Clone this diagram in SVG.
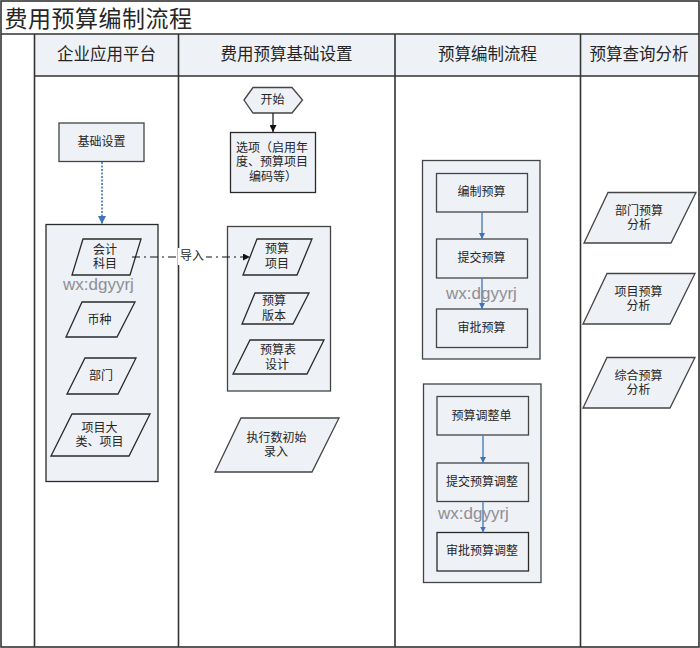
<svg xmlns="http://www.w3.org/2000/svg" width="700" height="648" viewBox="0 0 700 648">
<style>
text{font-family:"Noto Sans CJK SC","Liberation Sans",sans-serif;fill:#262626;text-anchor:middle}
.t{font-size:12px}
.h{font-size:16.5px}
.b{fill:#eef1f6;stroke:#2a2a2a;stroke-width:1.3}
.g{fill:#eef1f6;stroke:#444;stroke-width:1.3}
.lane{fill:none;stroke:#333;stroke-width:1.6}
.wm{font-family:"Liberation Sans",sans-serif;font-size:17px;fill:#8e8e94;text-anchor:start}
.bl{fill:none;stroke:#4a7ebb;stroke-width:1.4;marker-end:url(#ab)}
</style>
<defs>
<marker id="ab" viewBox="0 0 10 10" refX="10" refY="5" markerWidth="6" markerHeight="6" orient="auto" markerUnits="userSpaceOnUse"><path d="M0 0L10 5L0 10Z" fill="#3f74b8"/></marker>
<marker id="abl" viewBox="0 0 10 10" refX="10" refY="5" markerWidth="8" markerHeight="8" orient="auto" markerUnits="userSpaceOnUse"><path d="M0 0L10 5L0 10Z" fill="#3f74b8"/></marker>
<marker id="ak" viewBox="0 0 10 10" refX="10" refY="5" markerWidth="7" markerHeight="7" orient="auto" markerUnits="userSpaceOnUse"><path d="M0 0L10 5L0 10Z" fill="#111"/></marker>
</defs>
<rect width="700" height="648" fill="#fff"/>
<g id="frame">
<rect x="35" y="34" width="544" height="42" fill="#eef1f6"/>
<rect x="580" y="34" width="119" height="42" fill="#eef1f6"/>
<rect x="1" y="1" width="698" height="646" class="lane"/>
<path class="lane" d="M1 34H699M34.500 76H699M34.500 34V647M178.500 34V647M395 34V647M580.500 34V647"/>
<text x="98.500" y="26.500" style="font-size:23px;letter-spacing:.5px">费用预算编制流程</text>
<text class="h" x="106.500" y="60">企业应用平台</text>
<text class="h" x="286.500" y="60">费用预算基础设置</text>
<text class="h" x="487.500" y="60">预算编制流程</text>
<text class="h" x="639" y="60">预算查询分析</text>
</g>
<g id="group-basic"><rect class="b" x="46" y="224.500" width="112" height="257"/></g>
<g id="group-budget"><rect class="g" x="227.500" y="226.500" width="103" height="164.500"/></g>
<g id="group-prep"><rect class="g" x="422.500" y="160.500" width="117.500" height="198.500"/></g>
<g id="group-adjust"><rect class="g" x="423.500" y="384" width="117.500" height="198.500"/></g>
<g id="n-jichu"><rect class="g" x="59" y="123" width="85" height="38.500"/><text class="t" x="101.500" y="146">基础设置</text></g>
<g id="n-kaishi"><polygon class="g" points="244,100 253,87.500 292,87.500 302.500,100 292,113 253,113"/><text class="t" x="272.500" y="104">开始</text></g>
<g id="n-xuanxiang"><rect class="b" x="230.500" y="132.500" width="85" height="60"/><text class="t"><tspan x="272" y="152">选项（启用年</tspan><tspan x="272" y="166">度、预算项目</tspan><tspan x="273" y="181">编码等）</tspan></text></g>
<g id="n-kemu"><polygon class="b" points="83,239 141,239 130,275 72,275"/><text class="t"><tspan x="105" y="254">会计</tspan><tspan x="105" y="268">科目</tspan></text></g>
<g id="n-bizhong"><polygon class="b" points="82,302 135,302 117,337 66,337"/><text class="t" x="99.500" y="324">币种</text></g>
<g id="n-bumen"><polygon class="b" points="85,358 136,358 118,394 67,394"/><text class="t" x="101" y="380">部门</text></g>
<g id="n-xiangmu"><polygon class="b" points="72,414 150,414 129,456 51,456"/><text class="t"><tspan x="99.500" y="432">项目大</tspan><tspan x="99.500" y="446">类、项目</tspan></text></g>
<g id="n-ysxm"><polygon class="b" points="257,239 312,239 297,275 243,275"/><text class="t"><tspan x="277" y="253">预算</tspan><tspan x="277" y="268">项目</tspan></text></g>
<g id="n-ysbb"><polygon class="b" points="255,293 309,293 293,324 242,324"/><text class="t"><tspan x="274" y="305">预算</tspan><tspan x="274" y="320">版本</tspan></text></g>
<g id="n-ysb"><polygon class="b" points="250,340 324,340 307,374 233,374"/><text class="t"><tspan x="278" y="354">预算表</tspan><tspan x="277" y="369">设计</tspan></text></g>
<g id="n-zxs"><polygon class="g" points="241,418 339,418 312,472 215,472"/><text class="t"><tspan x="276.500" y="442">执行数初始</tspan><tspan x="276" y="456">录入</tspan></text></g>
<g id="n-bianzhi"><rect class="g" x="436.500" y="173.500" width="91" height="38.500"/><text class="t" x="481.500" y="196">编制预算</text></g>
<g id="n-tijiao"><rect class="g" x="436.500" y="239" width="91" height="39"/><text class="t" x="481.500" y="262">提交预算</text></g>
<g id="n-shenpi"><rect class="g" x="436.500" y="309" width="91" height="38.500"/><text class="t" x="481.500" y="332">审批预算</text></g>
<g id="n-tiaozheng"><rect class="g" x="437" y="396.500" width="91.500" height="38.500"/><text class="t" x="481.500" y="420">预算调整单</text></g>
<g id="n-tjtz"><rect class="g" x="437" y="463" width="91.500" height="38.500"/><text class="t" x="482" y="486">提交预算调整</text></g>
<g id="n-sptz"><rect class="b" x="437" y="532.500" width="91.500" height="38.500"/><text class="t" x="482" y="555">审批预算调整</text></g>
<g id="n-bmfx"><polygon class="g" points="608,192.500 696,192.500 671,243 584,243"/><text class="t"><tspan x="639" y="215">部门预算</tspan><tspan x="639" y="229">分析</tspan></text></g>
<g id="n-xmfx"><polygon class="g" points="607,273.500 695,273.500 670,324 583,324"/><text class="t"><tspan x="638.500" y="296">项目预算</tspan><tspan x="638.500" y="310">分析</tspan></text></g>
<g id="n-zhfx"><polygon class="g" points="607,357.500 695,357.500 670,408 583,408"/><text class="t"><tspan x="638.500" y="380">综合预算</tspan><tspan x="638.500" y="394">分析</tspan></text></g>
<g id="connectors">
<path d="M273 113V132" fill="none" stroke="#222" stroke-width="1.300" marker-end="url(#ak)"/>
<path d="M102 162V224" fill="none" stroke="#3f74b8" stroke-width="1.600" stroke-dasharray="2 1.500" marker-end="url(#abl)"/>
<path d="M132 257H250" fill="none" stroke="#111" stroke-width="1.100" stroke-dasharray="8 4 2 4" marker-end="url(#ak)"/>
<rect x="178" y="248" width="28" height="17" fill="#fff"/>
<text class="t" x="192" y="260">导入</text>
<path class="bl" d="M482 212V239"/>
<path class="bl" d="M482 278V309"/>
<path class="bl" d="M483 435V463"/>
<path class="bl" d="M483 501.500V532.500"/>
</g>
<g id="watermarks">
<text class="wm" x="63" y="290">wx:dgyyrj</text>
<text class="wm" x="446" y="299">wx:dgyyrj</text>
<text class="wm" x="438" y="519">wx:dgyyrj</text>
</g>
</svg>
